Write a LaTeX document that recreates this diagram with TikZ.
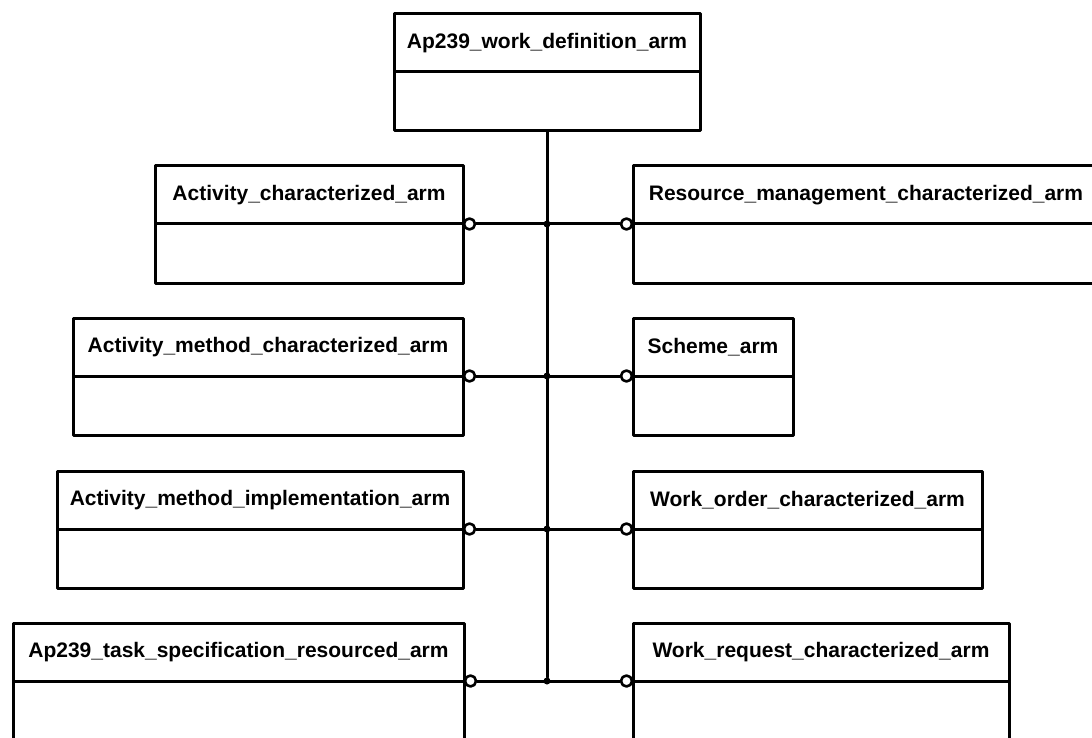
\documentclass[tikz,border=0pt]{standalone}
\usepackage{fontspec}
\setmainfont{Liberation Sans}
\usetikzlibrary{positioning}

\tikzset{
  armhead/.style={draw, line width=3pt, minimum height=58pt, inner sep=0pt, outer sep=0pt,
    anchor=north west, font=\fontsize{21}{24}\selectfont\bfseries},
  armbody/.style={draw, line width=3pt, minimum height=59pt, inner sep=0pt, outer sep=0pt},
  link/.style={line width=3pt},
  socket/.style={draw, circle, fill=white, line width=2.6pt, minimum size=11pt, inner sep=0pt},
  joint/.style={fill, circle, inner sep=0pt, minimum size=7pt}
}

% name, x, y, width, label
\newcommand{\armbox}[5]{%
  \node[armhead, minimum width=#4pt] (#1) at (#2,#3) {#5};
  \node[armbody, minimum width=#4pt, below=0pt of #1] (#1b) {};
}

\begin{document}
\begin{tikzpicture}[x=1pt,y=-1pt,line cap=round,line join=round]
  \useasboundingbox (0,0) rectangle (1092,738);
  \clip (0,0) rectangle (1092,738);

  \armbox{wdef}{394}{14}{306}{Ap239\_work\_definition\_arm}
  \armbox{actc}{155}{166}{308}{Activity\_characterized\_arm}
  \armbox{rmc}{633}{166}{466}{Resource\_management\_characterized\_arm}
  \armbox{amc}{73}{318}{390}{Activity\_method\_characterized\_arm}
  \armbox{sch}{633}{318}{160}{Scheme\_arm}
  \armbox{ami}{57}{471}{406}{Activity\_method\_implementation\_arm}
  \armbox{woc}{633}{471}{349}{Work\_order\_characterized\_arm}
  \armbox{ats}{13}{623}{451}{Ap239\_task\_specification\_resourced\_arm}
  \armbox{wrc}{633}{623}{376}{Work\_request\_characterized\_arm}

  % links to the trunk
  \foreach \l/\r in {actc/rmc, amc/sch, ami/woc, ats/wrc} {
    \node[socket] (\l-s) at ([xshift=6.5pt]\l.south east) {};
    \node[socket] (\r-s) at ([xshift=-6.5pt]\r.south west) {};
    \draw[link] (\l-s) -- (\r-s);
    \node[joint] (\l-j) at (wdefb.south |- \l-s) {};
  }
  \draw[link] (wdefb.south) -- (ats-j);
\end{tikzpicture}
\end{document}
